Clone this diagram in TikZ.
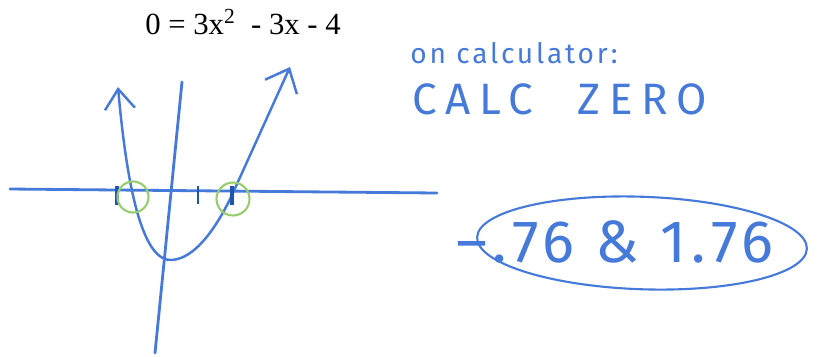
\documentclass[tikz,border=0pt]{standalone}
\usepackage{fontspec}
\setmainfont{Liberation Serif}
\newfontfamily\handfont{Fira Sans}
\usetikzlibrary{arrows.meta,positioning,shapes.geometric}
\definecolor{pencil}{RGB}{70,122,218}
\definecolor{darkpencil}{RGB}{32,84,178}
\definecolor{crayongreen}{RGB}{150,205,110}
\tikzset{
  axisline/.style={draw=pencil,line width=1.6pt,line cap=round},
  curve/.style={draw=pencil,line width=1.4pt,line cap=round,
    {Straight Barb[length=4mm,width=6mm]}-{Straight Barb[length=4mm,width=7mm]}},
  tickmark/.style={draw=darkpencil,line width=2.4pt},
  rootmark/.style={circle,draw=crayongreen,line width=1.2pt,minimum size=0.62cm,inner sep=0pt},
  note/.style={text=pencil,inner sep=0pt,anchor=base west},
  loop/.style={ellipse,draw=pencil,line width=1.2pt,inner sep=0pt}
}

\begin{document}
\begin{tikzpicture}[x=0.02cm,y=-0.02cm]
  \path[fill=white] (0,0) rectangle (817,356);
  \useasboundingbox (0,0) rectangle (817,356);

  \node[font=\fontsize{17.5}{21}\selectfont] (eqn) at (243,22) {0 = 3x\textsuperscript{2}\ \ - 3x - 4};

  % axes
  \coordinate (xleft) at (10,189);
  \coordinate (xright) at (437,193);
  \coordinate (ytop) at (182,82);
  \coordinate (ybot) at (155,353);
  \draw[axisline] (xleft) -- (xright);
  \draw[axisline] (ytop) -- (ybot);

  % parabola
  \coordinate (lefttip) at (118,87);
  \coordinate (vertex) at (172,260);
  \coordinate (rightcross) at (232,195);
  \coordinate (righttip) at (290,67);
  \draw[curve] (lefttip) .. controls (128,200) and (145,262) .. (vertex)
    .. controls (200,258) and (223,214) .. (rightcross) -- (righttip);

  \draw[tickmark] (117,186) -- (117,205);
  \draw[tickmark,line width=1.2pt] (198,186) -- (198,204);
  \draw[tickmark] (232,186) -- (232,205);

  \node[rootmark] (leftroot) at (133,197) {};
  \node[rootmark,minimum size=0.66cm] (rightroot) at (233,199) {};

  % notes
  \node[note,font=\handfont\fontsize{16}{19}\selectfont\addfontfeature{LetterSpace=10}] (oncalc) at (410,63) {on calculator:};
  \node[note,font=\handfont\fontsize{25}{29}\selectfont\addfontfeature{LetterSpace=20}] (calczero) at (412,114) {CALC\hspace{0.9cm}ZERO};

  \node[note,font=\handfont\fontsize{34}{38}\selectfont\addfontfeature{LetterSpace=9}] (answer) at (456,262) {–\hspace{0.1cm}.76 \& 1.76};
  \node[loop,rotate=-2,minimum width=6.6cm,minimum height=1.85cm] (answerloop) at (642,243) {};
\end{tikzpicture}
\end{document}
